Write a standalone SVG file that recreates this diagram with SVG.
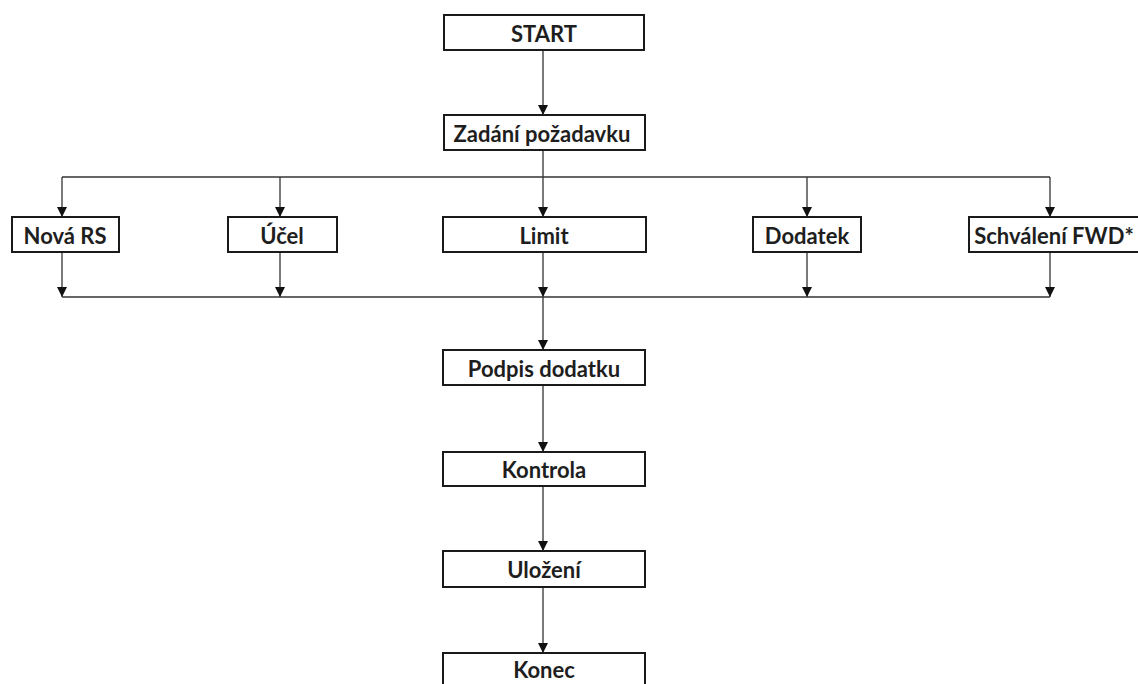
<svg xmlns="http://www.w3.org/2000/svg" width="1138" height="684" viewBox="0 0 1138 684">
<style>
.box{fill:#fff;stroke:#1a1a1a;stroke-width:2}
.lbl{font-family:Lato,"Open Sans",sans-serif;font-weight:bold;font-size:22px;fill:#1e1e1e;text-anchor:middle;dominant-baseline:central}
.c{fill:none;stroke:#333;stroke-width:1.3}
</style>
<defs>
<marker id="ah" viewBox="0 0 10 10" refX="10" refY="5" markerWidth="10" markerHeight="10" markerUnits="userSpaceOnUse" orient="auto">
<path d="M0,0 L10,5 L0,10 Z" fill="#111"/>
</marker>
</defs>
<rect width="1138" height="684" fill="#fff"/>
<g id="connectors">
<path class="c" d="M543,50 V115" marker-end="url(#ah)"/>
<path class="c" d="M543,150 V217" marker-end="url(#ah)"/>
<path class="c" d="M62,177 H1050"/>
<path class="c" d="M62,177 V217" marker-end="url(#ah)"/>
<path class="c" d="M280,177 V217" marker-end="url(#ah)"/>
<path class="c" d="M807,177 V217" marker-end="url(#ah)"/>
<path class="c" d="M1050,177 V217" marker-end="url(#ah)"/>
<path class="c" d="M62,252 V297" marker-end="url(#ah)"/>
<path class="c" d="M280,252 V297" marker-end="url(#ah)"/>
<path class="c" d="M543,252 V297" marker-end="url(#ah)"/>
<path class="c" d="M807,252 V297" marker-end="url(#ah)"/>
<path class="c" d="M1050,252 V297" marker-end="url(#ah)"/>
<path class="c" d="M62,297 H1050"/>
<path class="c" d="M543,297 V350" marker-end="url(#ah)"/>
<path class="c" d="M543,385 V452" marker-end="url(#ah)"/>
<path class="c" d="M543,486 V551" marker-end="url(#ah)"/>
<path class="c" d="M543,587 V653" marker-end="url(#ah)"/>
</g>
<g id="start"><rect class="box" x="444" y="15" width="200" height="35"/><text class="lbl" x="544" y="33">START</text></g>
<g id="zadani"><rect class="box" x="444" y="115" width="201" height="35"/><text class="lbl" x="542" y="133">Zadání požadavku</text></g>
<g id="nova"><rect class="box" x="12" y="217" width="107" height="35"/><text class="lbl" x="65" y="235">Nová RS</text></g>
<g id="ucel"><rect class="box" x="228" y="217" width="109" height="35"/><text class="lbl" x="282" y="235">Účel</text></g>
<g id="limit"><rect class="box" x="443" y="217" width="203" height="35"/><text class="lbl" x="544" y="235">Limit</text></g>
<g id="dodatek"><rect class="box" x="753" y="217" width="108" height="35"/><text class="lbl" x="807" y="235">Dodatek</text></g>
<g id="schvaleni"><rect class="box" x="969" y="217" width="175" height="35"/><text class="lbl" x="1054" y="235">Schválení FWD*</text></g>
<g id="podpis"><rect class="box" x="443" y="350" width="202" height="35"/><text class="lbl" x="544" y="368">Podpis dodatku</text></g>
<g id="kontrola"><rect class="box" x="443" y="452" width="202" height="34"/><text class="lbl" x="544" y="469">Kontrola</text></g>
<g id="ulozeni"><rect class="box" x="443" y="551" width="202" height="36"/><text class="lbl" x="544" y="569">Uložení</text></g>
<g id="konec"><rect class="box" x="443" y="653" width="202" height="38"/><text class="lbl" x="544" y="669">Konec</text></g>
</svg>
